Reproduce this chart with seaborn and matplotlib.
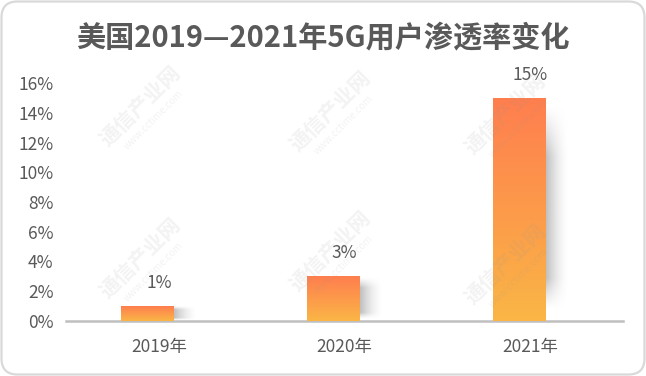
import numpy as np
import matplotlib
matplotlib.use("Agg")
import matplotlib.pyplot as plt
import seaborn as sns
import pandas as pd
from matplotlib.patches import FancyBboxPatch
from matplotlib.colors import LinearSegmentedColormap

years = ["2019年", "2020年", "2021年"]
values = [1, 3, 15]
value_labels = ["1%", "3%", "15%"]
yticks = [0, 2, 4, 6, 8, 10, 12, 14, 16]
title = "美国2019—2021年5G用户渗透率变化"

sns.set_theme(style="white")
plt.rcParams['font.family'] = ['Noto Sans CJK SC', 'DejaVu Sans']

W, H = 646, 376
fig = plt.figure(figsize=(W / 100, H / 100), dpi=100)

# background frame
bg = fig.add_axes([0, 0, 1, 1], zorder=-5)
bg.set_xlim(0, W); bg.set_ylim(0, H); bg.axis("off")
bg.add_patch(FancyBboxPatch((1.5, 1.5), W - 3, H - 3,
                            boxstyle="round,pad=0,rounding_size=16",
                            fc="white", ec="#D9D9D9", lw=1.6))

ax = fig.add_axes([66 / W, 55 / H, (623 - 66) / W, (293 - 55) / H])
ax.patch.set_alpha(0)
df = pd.DataFrame({"year": years, "value": values})
sns.barplot(data=df, x="year", y="value", width=0.285, ax=ax,
            color="white", edgecolor="none", linewidth=0, zorder=3)

ax.set_ylim(0, 16)
ax.set_xlim(-0.5, len(years) - 0.5)

cmap = LinearSegmentedColormap.from_list("g", ["#FAB646", "#FF7E4F"])
grad = np.linspace(0, 1, 256).reshape(-1, 1)
shift = -0.059
for i, (p, v, lab) in enumerate(zip(ax.patches, values, value_labels)):
    p.set_x(p.get_x() + shift)
    x0, w, h = p.get_x(), p.get_width(), p.get_height()
    im = ax.imshow(grad, cmap=cmap, origin="lower", aspect="auto",
                   extent=[x0, x0 + w, 0, h], zorder=4)
    im.set_clip_path(p)
    # shadow to the right
    sw = 0.12
    nx, ny = 60, 100
    tx = np.linspace(0, 1, nx)
    ty = np.linspace(0, 1, ny)
    hx = (1 - tx) ** 1.6
    vy = np.clip(np.minimum(ty / 0.15, (1 - ty) / 0.25), 0, 1) ** 1.2
    alpha = np.outer(vy, hx) * 0.55
    rgba = np.zeros((ny, nx, 4))
    rgba[..., :3] = 0.55
    rgba[..., 3] = alpha
    ax.imshow(rgba, origin="lower", aspect="auto",
              extent=[x0 + w, x0 + w + sw, h * 0.05, h * 0.97], zorder=2,
              interpolation="bilinear")
    ax.annotate(lab, xy=(i, h), xytext=(0, 16.5), textcoords="offset points",
                ha="center", va="center", fontsize=12.5, color="#595959", zorder=5)

ax.set_xlim(-0.5, len(years) - 0.5)
ax.set_ylim(0, 16)
ax.set_yticks(yticks)
ax.set_yticklabels([f"{t}%" for t in yticks])
ax.set_xlabel(""); ax.set_ylabel("")
for s in ["left", "right", "top"]:
    ax.spines[s].set_visible(False)
ax.spines["bottom"].set_color("#BFBFBF")
ax.spines["bottom"].set_linewidth(1.8)
ax.set_xticks(np.arange(len(years)))
ax.set_xticklabels(years)
ax.set_xticks(np.arange(-0.5, len(years), 1.0), minor=True)
ax.tick_params(axis="x", which="major", length=0, pad=12, labelsize=12.5, labelcolor="#595959")
ax.tick_params(axis="x", which="minor", length=5, width=1.8, color="#BFBFBF", direction="out")
ax.tick_params(axis="y", length=0, pad=9, labelsize=12.5, labelcolor="#595959")
ax.grid(False)

fig.text(0.5, 1 - 37 / H, title, ha="center", va="center",
         fontsize=21, fontweight="bold", color="#595959")

# faint watermarks
wm = fig.add_axes([0, 0, 1, 1], zorder=10)
wm.set_xlim(0, W); wm.set_ylim(0, H); wm.axis("off"); wm.patch.set_alpha(0)
for (cx, cy) in [(140, 270), (330, 265), (505, 262), (140, 118), (330, 125), (505, 112)]:
    wm.text(cx, cy, "通信产业网", rotation=45, ha="center", va="center",
            fontsize=15, fontweight="bold", color="#999999", alpha=0.12)
    wm.text(cx + 14, cy - 14, "www.cctime.com", rotation=45, ha="center", va="center",
            fontsize=7, color="#999999", alpha=0.12)

fig.savefig("out.png", dpi=100)
